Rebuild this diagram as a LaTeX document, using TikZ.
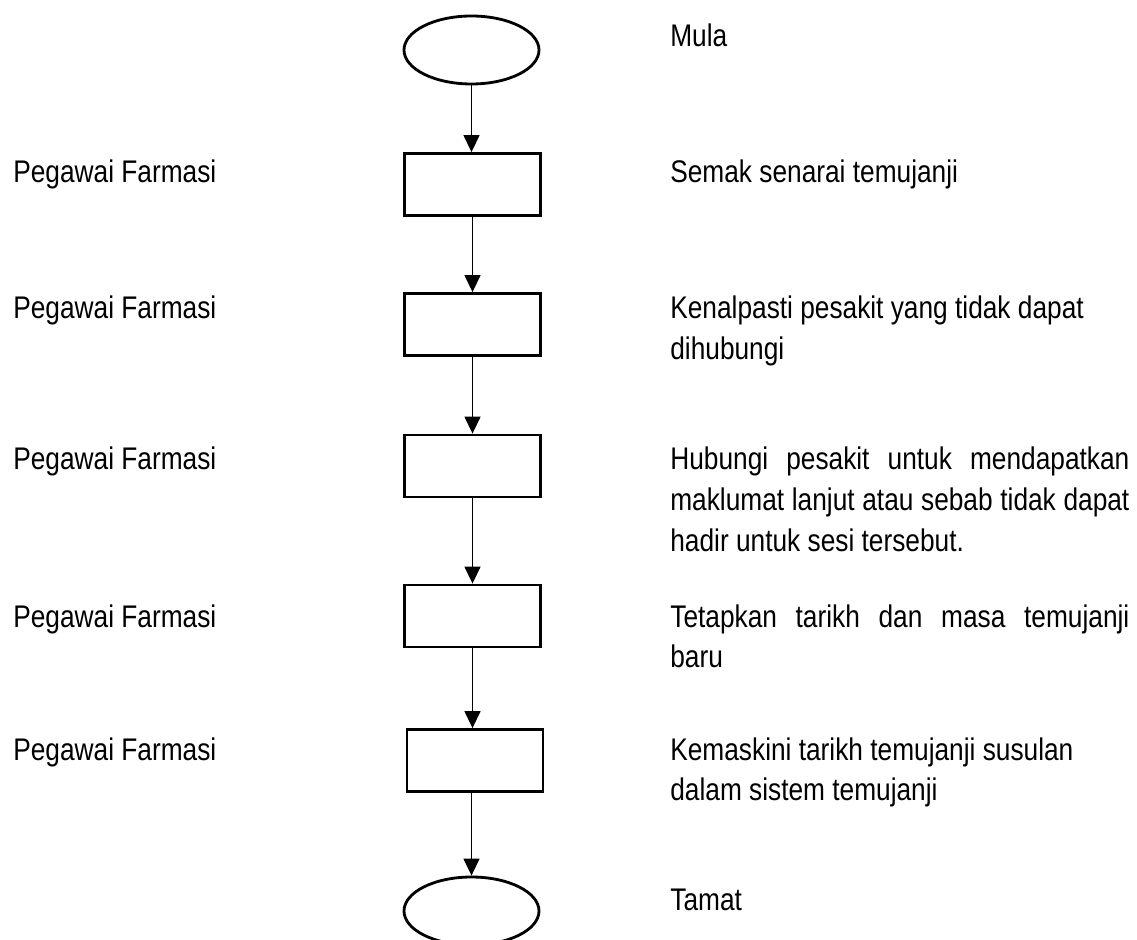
\documentclass[tikz,border=0pt]{standalone}
\usepackage{fontspec}
\setmainfont{Liberation Sans}[FakeStretch=0.84]
\usetikzlibrary{arrows.meta, shapes.geometric}
\newlength{\descw}
\setlength{\descw}{9.18cm}
\newcommand{\fullline}[1]{\makebox[\descw][s]{#1}}
\tikzset{
  nodebase/.style={font=\fontsize{17.8}{23.3}\selectfont, text=black, inner sep=0pt},
  terminal/.style={ellipse, draw=black, line width=1.6pt,
    minimum width=2.70cm, minimum height=1.36cm, inner sep=0pt},
  stepbox/.style={rectangle, draw=black, line width=1.6pt,
    minimum width=2.72cm, minimum height=1.24cm, inner sep=0pt},
  actor/.style={nodebase, anchor=base west},
  desc/.style={nodebase, anchor=base west, align=flush left, text width=\descw},
  arrow/.style={-{Triangle[length=3.4mm, width=3.2mm]}, draw=black, line width=0.8pt}
}

\begin{document}
\begin{tikzpicture}[x=1cm,y=1cm]
\useasboundingbox[fill=white] (0,0) rectangle (22.74,18.78);

% Flow shapes
\node[terminal] (mula) at (9.43,17.78) {};
\node[stepbox] (semak) at (9.45,15.09) {};
\node[stepbox] (kenal) at (9.45,12.29) {};
\node[stepbox] (hubung) at (9.45,9.46) {};
\node[stepbox] (tetap) at (9.45,6.46) {};
\node[stepbox] (kemas) at (9.50,3.57) {};
\node[terminal] (tamat) at (9.43,0.56) {};

% Who does it
\node[actor] (p1) at (0.26,15.12) {Pegawai Farmasi};
\node[actor] (p2) at (0.26,12.40) {Pegawai Farmasi};
\node[actor] (p3) at (0.26,9.38) {Pegawai Farmasi};
\node[actor] (p4) at (0.26,6.24) {Pegawai Farmasi};
\node[actor] (p5) at (0.26,3.58) {Pegawai Farmasi};

% What is done
\node[desc] (tmula) at (13.40,17.84) {Mula};
\node[desc] (tsemak) at (13.40,15.12) {Semak senarai temujanji};
\node[desc] (tkenal) at (13.40,12.40)
  {Kenalpasti pesakit yang tidak dapat\\dihubungi};
\node[desc] (thubung) at (13.40,9.38)
  {\fullline{Hubungi pesakit untuk mendapatkan}\\
   \fullline{maklumat lanjut atau sebab tidak dapat}\\
   hadir untuk sesi tersebut.};
\node[desc] (ttetap) at (13.40,6.24)
  {\fullline{Tetapkan tarikh dan masa temujanji}\\baru};
\node[desc] (tkemas) at (13.40,3.58)
  {Kemaskini tarikh temujanji susulan\\dalam sistem temujanji};
\node[desc] (ttamat) at (13.40,0.58) {Tamat};

% Main flow
\draw[arrow] (mula.south) -- (mula.south |- semak.north);
\draw[arrow] (semak) -- (kenal);
\draw[arrow] (kenal) -- (hubung);
\draw[arrow] (hubung) -- (tetap);
\draw[arrow] (tetap.south) -- (tetap.south |- kemas.north);
\draw[arrow] (tamat.north |- kemas.south) -- (tamat.north);

\end{tikzpicture}
\end{document}
